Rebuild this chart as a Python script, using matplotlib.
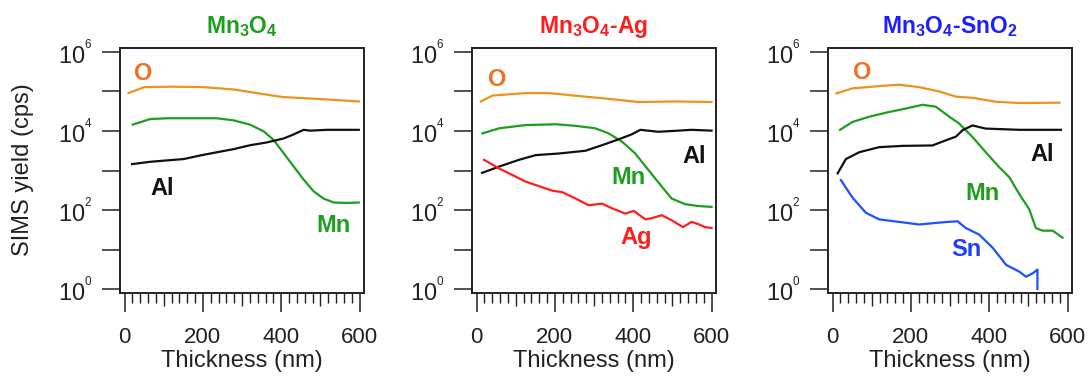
import numpy as np
import matplotlib
matplotlib.use("Agg")
import matplotlib.pyplot as plt
from matplotlib.ticker import FixedLocator, FuncFormatter, NullFormatter

plt.rcParams['font.family'] = ['Liberation Sans', 'DejaVu Sans']
plt.rcParams['mathtext.default'] = 'regular'

# ---------------- data (thickness in nm, SIMS yield in cps) ----------------
titles = ["Mn$_3$O$_4$", "Mn$_3$O$_4$-Ag", "Mn$_3$O$_4$-SnO$_2$"]

# Panel 1: Mn3O4
p1_O_t = [10, 50, 120, 200, 280, 363, 405, 490, 598]
p1_O_y = [9.1e4, 1.29e5, 1.32e5, 1.29e5, 1.12e5, 8.3e4, 7.2e4, 6.5e4, 5.6e4]
p1_Mn_t = [21, 65, 110, 235, 278, 320, 355, 380, 406, 431, 457, 483, 508, 534, 568, 598]
p1_Mn_y = [1.45e4, 2.0e4, 2.1e4, 2.1e4, 1.86e4, 1.45e4, 9.8e3, 6.0e3, 2.75e3, 1.29e3,
           590, 295, 195, 155, 151, 155]
p1_Al_t = [19, 65, 151, 193, 236, 278, 321, 363, 406, 431, 457, 474, 517, 559, 598]
p1_Al_y = [1450, 1660, 1950, 2400, 2900, 3470, 4370, 5130, 6460, 8130, 1.07e4, 1.02e4,
           1.07e4, 1.07e4, 1.07e4]

# Panel 2: Mn3O4-Ag
p2_O_t = [11, 41, 125, 185, 253, 337, 414, 507, 600]
p2_O_y = [5.6e4, 7.9e4, 9.1e4, 9.1e4, 7.8e4, 6.5e4, 5.4e4, 5.6e4, 5.4e4]
p2_Mn_t = [15, 58, 125, 202, 253, 303, 337, 371, 405, 439, 473, 498, 532, 566, 600]
p2_Mn_y = [8700, 1.17e4, 1.41e4, 1.48e4, 1.35e4, 1.17e4, 8700, 5400, 2700, 1020, 390,
           195, 141, 126, 120]
p2_Al_t = [14, 58, 108, 151, 210, 278, 329, 371, 397, 418, 464, 515, 549, 600]
p2_Al_y = [870, 1260, 1860, 2450, 2690, 3160, 4680, 6600, 8300, 1.07e4, 9550, 1.02e4,
           1.07e4, 1.02e4]
p2_Ag_t = [19, 58, 125, 193, 219, 253, 286, 320, 346, 380, 401, 431, 447, 473, 498, 527,
           549, 566, 583, 600]
p2_Ag_y = [1860, 1120, 525, 309, 282, 195, 132, 145, 110, 81, 95, 58, 62, 74, 55, 37,
           50, 44, 37, 35]

# Panel 3: Mn3O4-SnO2
p3_O_t = [10, 51, 136, 170, 221, 272, 315, 357, 417, 477, 579]
p3_O_y = [8.9e4, 1.2e5, 1.41e5, 1.48e5, 1.29e5, 1.0e5, 7.4e4, 6.9e4, 5.5e4, 5.1e4, 5.2e4]
p3_Mn_t = [19, 51, 94, 136, 187, 230, 264, 298, 323, 357, 391, 426, 451, 477, 502, 519,
           536, 562, 587]
p3_Mn_y = [1.07e4, 1.7e4, 2.3e4, 2.9e4, 3.7e4, 4.6e4, 4.1e4, 2.3e4, 1.55e4, 7100, 2900,
           1200, 680, 250, 105, 35, 30, 30, 20]
p3_Al_t = [13, 34, 68, 119, 179, 255, 289, 315, 332, 357, 391, 477, 583]
p3_Al_y = [850, 1950, 2900, 3900, 4200, 4300, 5800, 7200, 1.05e4, 1.38e4, 1.15e4,
           1.07e4, 1.07e4]
p3_Sn_t = [21, 51, 85, 119, 170, 221, 272, 319, 340, 374, 409, 443, 477, 494, 511, 523, 523]
p3_Sn_y = [575, 205, 85, 58, 50, 43, 48, 52, 35, 24, 11, 4.1, 2.75, 2.05, 2.5, 3.1, 1.0]

# curve labels: (text, thickness, cps)
p1_labels = [("O", 47, 2.8e5), ("Al", 96, 350), ("Mn", 533, 40)]
p2_labels = [("O", 53, 2.0e5), ("Al", 556, 2300), ("Mn", 388, 650), ("Ag", 407, 20)]
p3_labels = [("O", 75, 3.0e5), ("Al", 534, 2500), ("Mn", 382, 260), ("Sn", 341, 10)]

# ---------------- styles ----------------
C_O, C_MN, C_AL, C_AG, C_SN = "#E8951E", "#1E9E1E", "#111111", "#FF1E1E", "#1E50FF"
LBL_C = {"O": "#F07020", "Mn": "#1E9E1E", "Al": "#111111", "Ag": "#FF1E1E", "Sn": "#1E3CFF"}
TITLE_C = ["#1E9E1E", "#FF1E1E", "#1E1EFF"]

panels = [
    [(p1_O_t, p1_O_y, C_O), (p1_Mn_t, p1_Mn_y, C_MN), (p1_Al_t, p1_Al_y, C_AL)],
    [(p2_O_t, p2_O_y, C_O), (p2_Mn_t, p2_Mn_y, C_MN), (p2_Al_t, p2_Al_y, C_AL),
     (p2_Ag_t, p2_Ag_y, C_AG)],
    [(p3_O_t, p3_O_y, C_O), (p3_Mn_t, p3_Mn_y, C_MN), (p3_Al_t, p3_Al_y, C_AL),
     (p3_Sn_t, p3_Sn_y, C_SN)],
]
labels = [p1_labels, p2_labels, p3_labels]

W, H = 1091, 381
fig = plt.figure(figsize=(W / 100, H / 100), dpi=100)
lefts = [119.5, 471.5, 827.5]
ax_w, ax_top, ax_bot = 244, 48, 293
FS = 17
BOX = "#222222"


def ylab(v, pos):
    e = int(round(np.log10(v)))
    if e % 2 == 0:
        return r"$\mathdefault{10^{{}^{%d}}}$" % e
    return ""


for i, (lx, series) in enumerate(zip(lefts, panels)):
    ax = fig.add_axes([lx / W, 1 - ax_bot / H, ax_w / W, (ax_bot - ax_top) / H])
    for t, y, c in series:
        ax.plot(t, y, color=c, lw=1.6, solid_joinstyle="round")
    ax.set_yscale("log")
    ax.set_ylim(10 ** -0.1, 10 ** 6.1)
    ax.set_xlim(-13, 610)
    ax.yaxis.set_major_locator(FixedLocator([10.0 ** k for k in range(7)]))
    ax.yaxis.set_major_formatter(FuncFormatter(ylab))
    ax.yaxis.set_minor_locator(FixedLocator([]))
    ax.set_xticks([0, 200, 400, 600])
    ax.set_xticks([v for v in range(0, 601, 20) if v % 100 != 0], minor=True)
    ax.tick_params(axis="y", which="major", direction="out", length=13, width=1.1,
                   color=BOX, labelsize=FS, pad=6, labelcolor="#222222")
    ax.tick_params(axis="x", which="major", direction="out", length=14, width=1.1,
                   color=BOX, labelsize=16, pad=10.5, labelcolor="#222222")
    ax.tick_params(axis="x", which="minor", direction="out", length=7, width=1.0,
                   color=BOX)
    for s in ax.spines.values():
        s.set_linewidth(1.4)
        s.set_color(BOX)
    # medium ticks at 100, 300, 500
    ax2 = ax.twiny()
    ax2.set_xlim(ax.get_xlim())
    ax2.xaxis.set_ticks_position("bottom")
    ax2.set_xticks([100, 300, 500])
    ax2.xaxis.set_major_formatter(NullFormatter())
    ax2.tick_params(axis="x", which="major", direction="out", length=9, width=1.0,
                    color=BOX)
    for s in ax2.spines.values():
        s.set_visible(False)
    for txt, tx, ty in labels[i]:
        ax.text(tx, ty, txt, color=LBL_C[txt], fontsize=FS, fontweight="bold",
                ha="center", va="center")
    cx = (lx + ax_w / 2) / W
    fig.text(cx, 1 - 33 / H, titles[i], color=TITLE_C[i], fontsize=16.5,
             fontweight="bold", ha="center", va="baseline")
    fig.text(cx, 1 - 367 / H, "Thickness (nm)", color="#222222", fontsize=FS,
             ha="center", va="baseline")

fig.text(23 / W, 1 - 170 / H, "SIMS yield (cps)", rotation=90, color="#222222",
         fontsize=FS, ha="center", va="center")

fig.savefig("out.png", dpi=100)
